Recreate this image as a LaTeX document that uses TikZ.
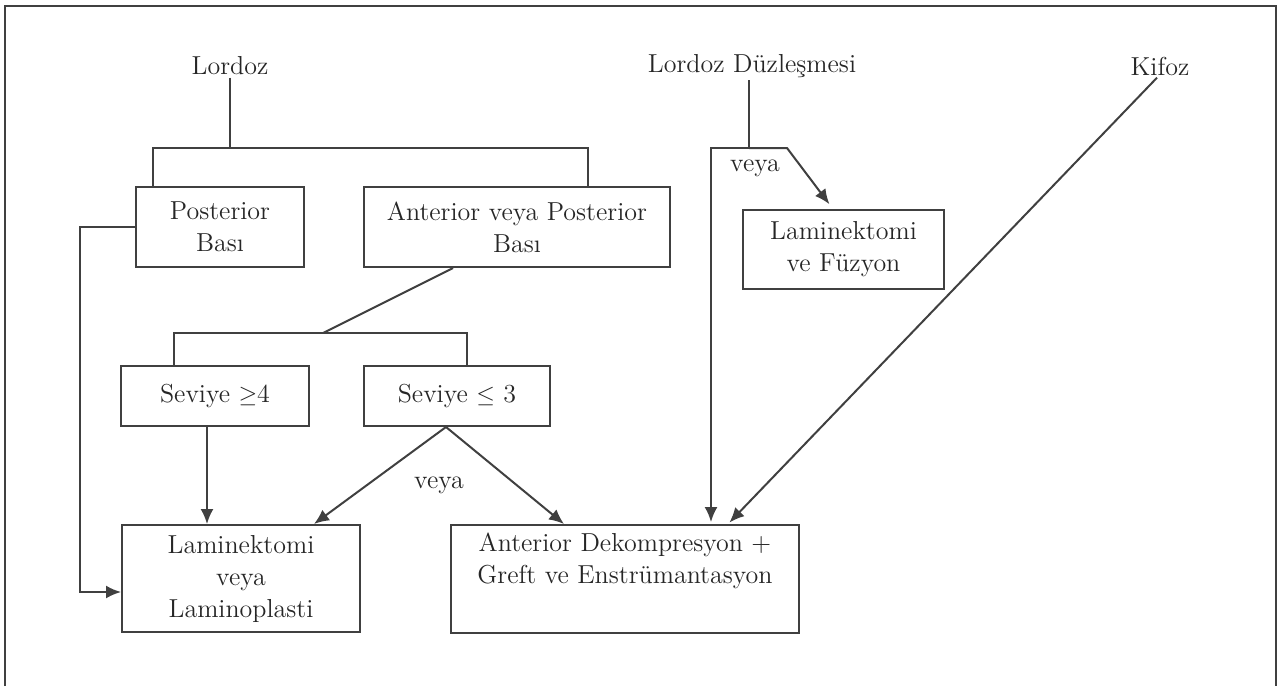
\documentclass[tikz,border=0pt]{standalone}
\usepackage{tikz}
\usetikzlibrary{shapes, arrows.meta}

\begin{document}
\begin{tikzpicture}[x=0.5pt, y=-0.5pt, font=\fontsize{13}{16}\selectfont, text=black!85]

\tikzstyle{line} = [line width=1pt, draw=black!75]
\tikzstyle{box} = [rectangle, line, text centered, align=center, inner sep=0pt]
\tikzstyle{arrow} = [line, -{Latex[length=7.5pt, width=6.5pt]}]
\tikzstyle{label} = [inner sep=1pt]

\useasboundingbox (0,0) rectangle (1284,686);
\draw [line] (5,686) -- (5,6) -- (1276,6) -- (1276,686);

% top row
\node (lordoz) [label] at (230,66) {Lordoz};
\node (duz) [label] at (752,66) {Lordoz Düzleşmesi};
\node (kifoz) [label] at (1160,66) {Kifoz};

% boxes
\node (posterior) [box, minimum width=84pt, minimum height=40pt] at (220,227) {Posterior\\ Bası};
\node (antpost) [box, minimum width=153pt, minimum height=40pt] at (517,227) {Anterior veya Posterior\\ Bası};
\node (lamfuz) [box, minimum width=100.5pt, minimum height=39.5pt] at (843.5,249.5) {Laminektomi\\ ve Füzyon};
\node (sev4) [box, minimum width=94pt, minimum height=30pt] at (215,396) {Seviye $\geq$4};
\node (sev3) [box, minimum width=93pt, minimum height=30pt] at (457,396) {Seviye $\leq$ 3};
\node (lamlam) [box, minimum width=119pt, minimum height=53.5pt] at (241,578.5) {Laminektomi\\ veya\\ Laminoplasti};
\node (antdek) [box, minimum width=174pt, minimum height=54pt] at (625,579) {Anterior Dekompresyon +\\ Greft ve Enstrümantasyon\\ \strut};

% veya labels
\node (veya1) [label] at (755,168) {veya};
\node (veya2) [label] at (439,485) {veya};

% branch points
\coordinate (lbar) at (230,148);
\coordinate (sbar) at (323,333);
\coordinate (dbar) at (749,148);
\coordinate (lside) at (80,592);

% Lordoz
\draw [line] (lordoz) -- (lbar);
\draw [line] (posterior.north -| 153,0) |- (lbar) -| (antpost.north -| 588,0);
\draw [line] (antpost.south -| 453,0) -- (sbar);
\draw [line] (sev4.north -| 174,0) |- (sbar) -| (sev3.north -| 467,0);
\draw [arrow] (posterior.west) -| (lside) -- (lamlam.west |- lside);
\draw [arrow] (sev4.south -| 207,0) -- (lamlam.north -| 207,0);
\draw [arrow] (sev3.south -| 446,0) -- (lamlam.north -| 314,0);
\draw [arrow] (sev3.south -| 446,0) -- (antdek.north -| 564,0);

% Lordoz Duzlesmesi
\draw [line] (duz.south -| dbar) -- (dbar);
\draw [arrow, shorten >=3pt] (dbar) -- (787,148) -- (lamfuz.north -| 833,0);
\draw [arrow, shorten >=1pt] (dbar) -| (antdek.north -| 711,0);

% Kifoz
\draw [arrow, shorten >=1pt] (kifoz.south -| 1157,0) -- (antdek.north -| 728,0);

\end{tikzpicture}
\end{document}
